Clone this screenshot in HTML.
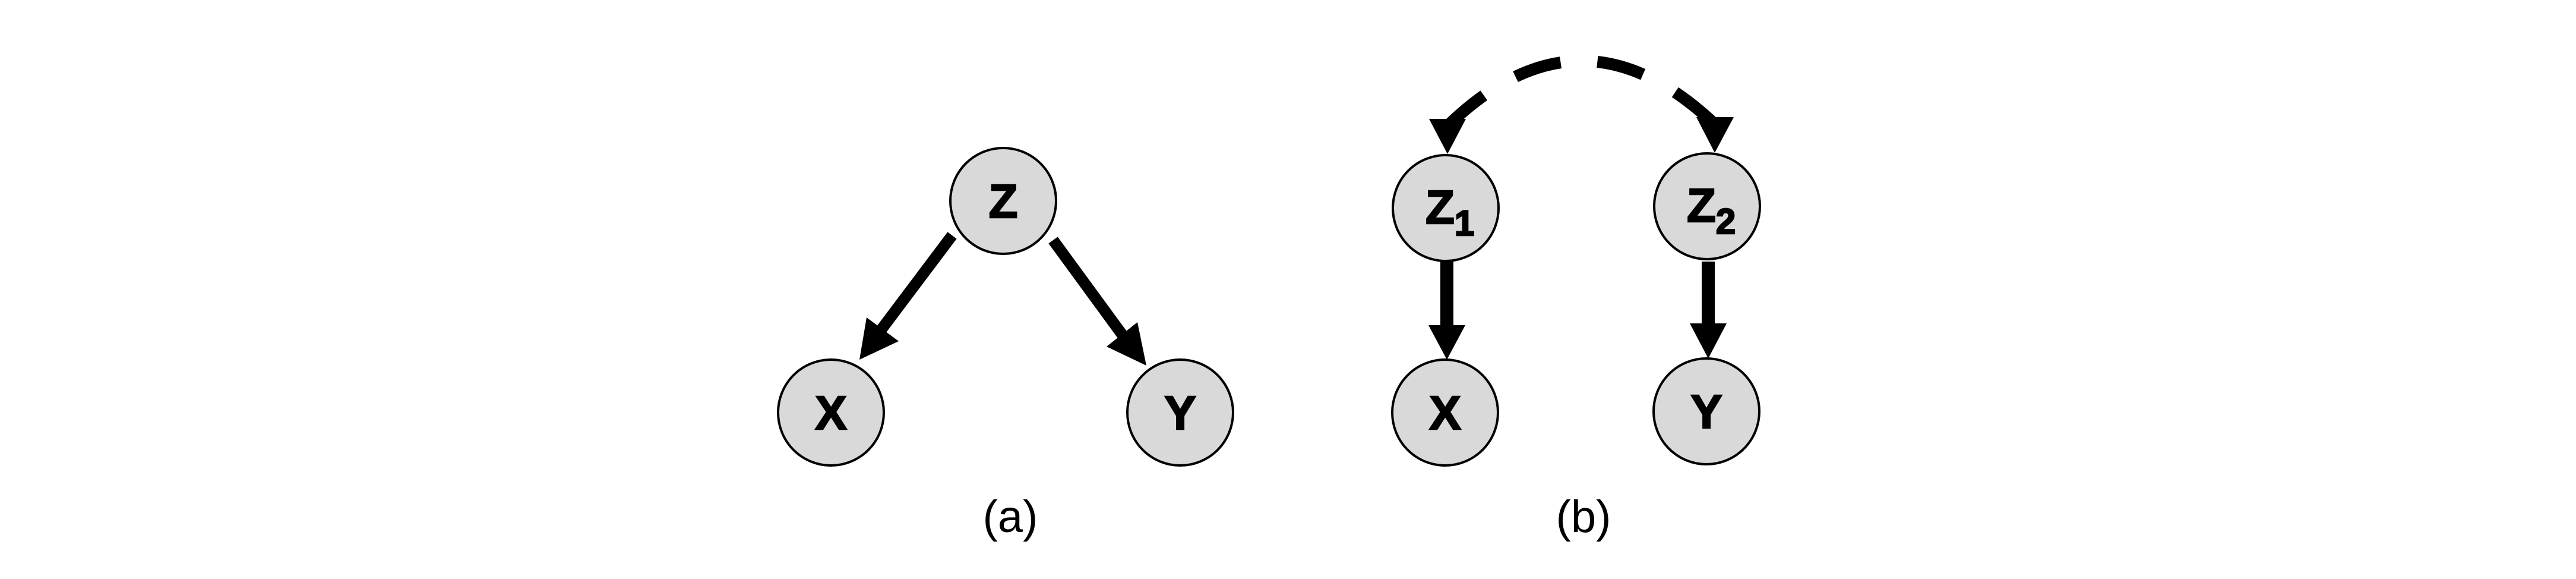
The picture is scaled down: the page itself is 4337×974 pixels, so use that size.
<!DOCTYPE html>
<html><head><meta charset="utf-8"><style>
html,body{margin:0;padding:0;background:#fff;}
svg{display:block;}
text{font-family:"Liberation Sans",Arial,sans-serif;}
.n{font-size:80px;font-weight:bold;stroke:#000;stroke-width:2.5;}
</style></head><body>
<svg width="4337" height="974" viewBox="0 0 4337 974">
<rect width="4337" height="974" fill="#fff"/>
<g>
  <g>
    <line x1="1603" y1="396" x2="1478" y2="562" stroke="#000" stroke-width="19"/>
    <polygon points="1459,534 1513,574 1447,605" fill="#000"/>
  </g>
  <g>
    <line x1="1773" y1="404" x2="1896" y2="572" stroke="#000" stroke-width="19"/>
    <polygon points="1915,542 1863,583 1930,615" fill="#000"/>
  </g>
  <g>
    <circle cx="1689" cy="338" r="89" fill="#d9d9d9" stroke="#000" stroke-width="4"/>
    <text class="n" x="1689" y="366" text-anchor="middle">Z</text>
  </g>
  <g>
    <circle cx="1399" cy="694" r="89" fill="#d9d9d9" stroke="#000" stroke-width="4"/>
    <text class="n" x="1399" y="722" text-anchor="middle">X</text>
  </g>
  <g>
    <circle cx="1987" cy="694" r="89" fill="#d9d9d9" stroke="#000" stroke-width="4"/>
    <text class="n" x="1987" y="722" text-anchor="middle">Y</text>
  </g>
  <text x="1701" y="895" font-size="76" text-anchor="middle">(a)</text>
</g>
<g>
  <g>
    <path d="M2437,212 Q2660,-5 2886,208" fill="none" stroke="#000" stroke-width="20" stroke-dasharray="80,62" stroke-dashoffset="0"/>
    <polygon points="2406,200 2468,200 2437,259" fill="#000"/>
    <polygon points="2856,197 2919,197 2887,257" fill="#000"/>
  </g>
  <g>
    <rect x="2425" y="440" width="22" height="110" fill="#000"/>
    <polygon points="2405,547 2467,547 2436,605" fill="#000"/>
  </g>
  <g>
    <rect x="2865" y="440" width="22" height="108" fill="#000"/>
    <polygon points="2845,544 2907,544 2876,603" fill="#000"/>
  </g>
  <g>
    <circle cx="2434" cy="350" r="89" fill="#d9d9d9" stroke="#000" stroke-width="4"/>
    <text class="n" x="2400" y="376">Z<tspan font-size="60" dy="20">1</tspan></text>
  </g>
  <g>
    <circle cx="2874" cy="347" r="89" fill="#d9d9d9" stroke="#000" stroke-width="4"/>
    <text class="n" x="2840" y="373">Z<tspan font-size="60" dy="20">2</tspan></text>
  </g>
  <g>
    <circle cx="2433" cy="694" r="89" fill="#d9d9d9" stroke="#000" stroke-width="4"/>
    <text class="n" x="2433" y="722" text-anchor="middle">X</text>
  </g>
  <g>
    <circle cx="2873" cy="692" r="89" fill="#d9d9d9" stroke="#000" stroke-width="4"/>
    <text class="n" x="2873" y="720" text-anchor="middle">Y</text>
  </g>
  <text x="2666" y="895" font-size="76" text-anchor="middle">(b)</text>
</g>
</svg>
</body></html>
